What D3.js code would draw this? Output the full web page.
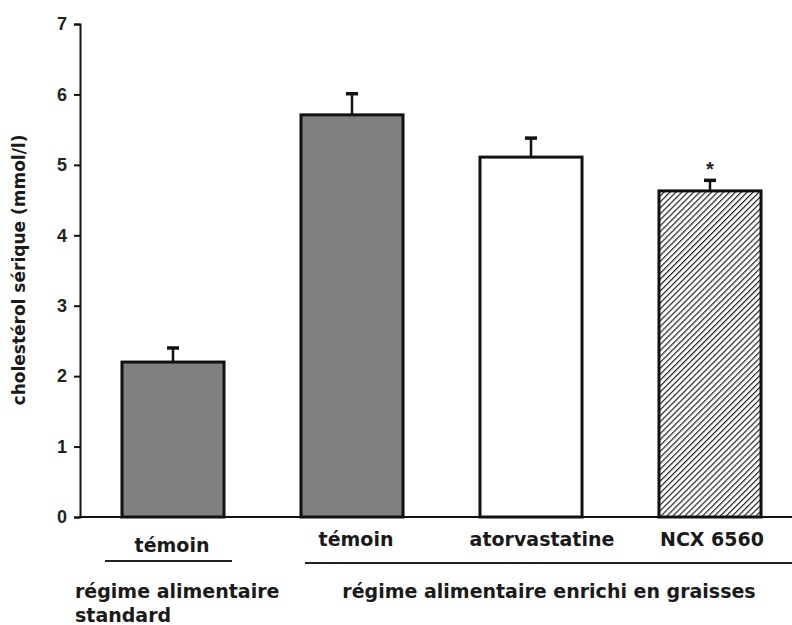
<!DOCTYPE html>
<html><head><meta charset="utf-8">
<script src="https://cdn.jsdelivr.net/npm/d3@7"></script>
<style>body{margin:0;background:#fff}</style>
</head><body>
<script>
const categories = ["témoin", "témoin ", "atorvastatine", "NCX 6560"];
const values = [2.2, 5.71, 5.11, 4.63];
const errors = [0.2, 0.3, 0.27, 0.15];
const fills = ["gray", "gray", "white", "hatch"];
const significance = ["", "", "", "*"];
const yTicks = [0, 1, 2, 3, 4, 5, 6, 7];
const groups = [
  {label: ["régime alimentaire", "standard"], from: 0, to: 0},
  {label: ["régime alimentaire enrichi en graisses"], from: 1, to: 3}
];

const W = 792, H = 625;
const svg = d3.select("body").append("svg").attr("width", W).attr("height", H);
const defs = svg.append("defs");
const pat = defs.append("pattern").attr("id", "hatch").attr("patternUnits", "userSpaceOnUse")
  .attr("width", 4.2).attr("height", 4.2).attr("patternTransform", "rotate(45)");
pat.append("rect").attr("width", 4.2).attr("height", 4.2).attr("fill", "#fff");
pat.append("line").attr("x1", 0).attr("y1", 0).attr("x2", 0).attr("y2", 4.2)
  .attr("stroke", "#222").attr("stroke-width", 2.4);

const y = d3.scaleLinear().domain([0, 7]).range([517, 24]);
const x = d3.scaleBand().domain(categories).range([83.5, 799.5]).paddingInner(0.43).paddingOuter(0.215);

const fillOf = f => f === "gray" ? "#808080" : f === "white" ? "#fff" : "url(#hatch)";

// bars
svg.selectAll("rect.bar").data(categories).join("rect").attr("class", "bar")
  .attr("x", d => x(d)).attr("width", x.bandwidth())
  .attr("y", (d, i) => y(values[i])).attr("height", (d, i) => y(0) - y(values[i]))
  .attr("fill", (d, i) => fillOf(fills[i])).attr("stroke", "#111").attr("stroke-width", 3);

// error bars
categories.forEach((c, i) => {
  const cx = x(c) + x.bandwidth() / 2;
  svg.append("line").attr("x1", cx).attr("x2", cx).attr("y1", y(values[i])).attr("y2", y(values[i] + errors[i]))
    .attr("stroke", "#111").attr("stroke-width", 2.5);
  svg.append("line").attr("x1", cx - 6).attr("x2", cx + 6).attr("y1", y(values[i] + errors[i])).attr("y2", y(values[i] + errors[i]))
    .attr("stroke", "#111").attr("stroke-width", 3.5);
  if (significance[i]) svg.append("text").attr("x", cx).attr("y", y(values[i] + errors[i]) - 4)
    .attr("text-anchor", "middle").attr("font-family", "Liberation Sans, Arial").attr("font-weight", "bold")
    .attr("font-size", 20).attr("fill", "#222").text(significance[i]);
});

// y axis
const yAxis = svg.append("g").attr("transform", "translate(80,0)")
  .call(d3.axisLeft(y).tickValues(yTicks).tickSize(6).tickPadding(7).tickFormat(d3.format("d")));
yAxis.select(".domain").attr("stroke", "#111").attr("stroke-width", 2);
yAxis.selectAll(".tick line").attr("stroke", "#111").attr("stroke-width", 2);
yAxis.selectAll("text").attr("font-family", "Liberation Sans, Arial").attr("font-weight", "bold")
  .attr("font-size", 18).attr("fill", "#222");

// x axis line
svg.append("line").attr("x1", 79).attr("x2", W).attr("y1", y(0)).attr("y2", y(0))
  .attr("stroke", "#111").attr("stroke-width", 2);

// category labels (slight rightward nudge as in the original layout)
const labFont = "DejaVu Sans, Verdana";
const fs = 19;
const nudge = i => [-1, 4, 11, 2][i];
svg.selectAll("text.cat").data(categories).join("text").attr("class", "cat")
  .attr("x", (d, i) => x(d) + x.bandwidth() / 2 + nudge(i)).attr("y", (d, i) => i === 0 ? 552 : 546)
  .attr("text-anchor", "middle").attr("font-family", labFont).attr("font-weight", "bold")
  .attr("font-size", fs).attr("fill", "#1a1a1a").text(d => d.trim());

// group lines and labels
svg.append("line").attr("x1", 105).attr("x2", 232).attr("y1", 561).attr("y2", 561).attr("stroke", "#222").attr("stroke-width", 2);
svg.append("line").attr("x1", 305).attr("x2", W).attr("y1", 563).attr("y2", 563).attr("stroke", "#222").attr("stroke-width", 2);
svg.append("text").attr("x", 75).attr("y", 598).attr("font-family", labFont).attr("font-weight", "bold")
  .attr("font-size", fs).attr("fill", "#1a1a1a").text(groups[0].label[0]);
svg.append("text").attr("x", 75).attr("y", 622).attr("font-family", labFont).attr("font-weight", "bold")
  .attr("font-size", fs).attr("fill", "#1a1a1a").text(groups[0].label[1]);
svg.append("text").attr("x", 549).attr("y", 598).attr("text-anchor", "middle").attr("font-family", labFont).attr("font-weight", "bold")
  .attr("font-size", fs).attr("fill", "#1a1a1a").text(groups[1].label[0]);

// y title
svg.append("text").attr("transform", "translate(25,270) rotate(-90)").attr("text-anchor", "middle")
  .attr("font-family", labFont).attr("font-weight", "bold").attr("font-size", 17).attr("fill", "#1a1a1a")
  .text("cholestérol sérique (mmol/l)");
</script>
</body></html>
